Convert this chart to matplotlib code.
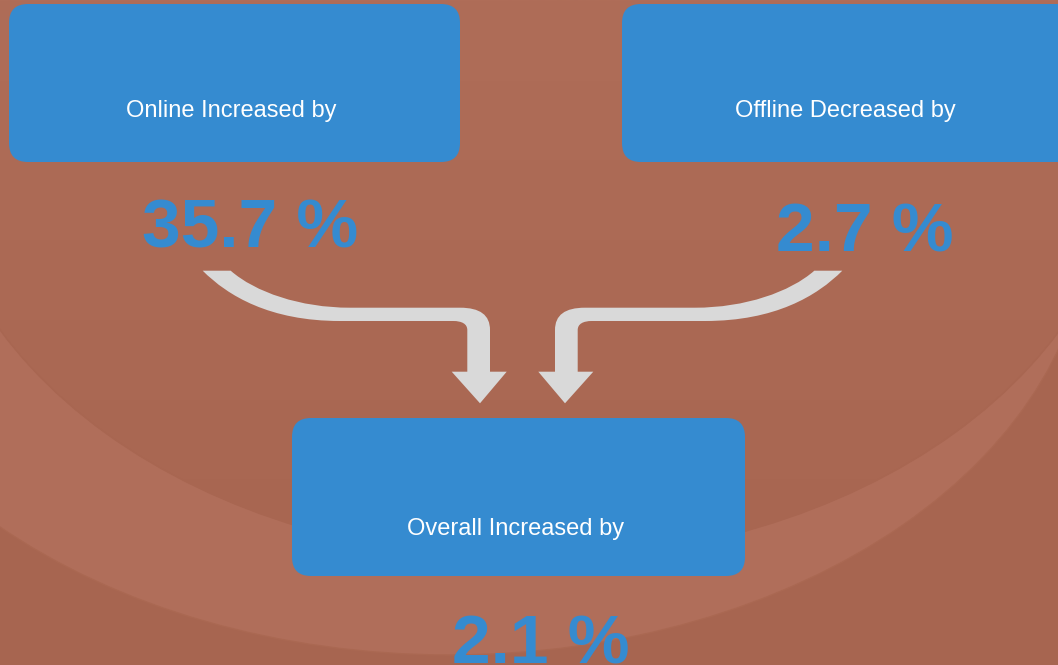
import matplotlib.pyplot as plt
import numpy as np
from matplotlib.patches import FancyBboxPatch, Ellipse, PathPatch, Rectangle
from matplotlib.path import Path
from matplotlib.colors import LinearSegmentedColormap

# texts and values
labels = ['Online Increased by', 'Offline Decreased by', 'Overall Increased by']
changes = [35.7, 2.7, 2.1]

# layout (pixel units, y downwards)
boxes = [(9, 4, 451, 158), (622, 4, 460, 158), (292, 418, 453, 158)]
label_pos = [(231, 117), (845, 117), (516, 535)]
value_pos = [(250, 248), (865, 252), (541, 663)]

BLUE = '#358BD0'
GREY = '#D9D9D9'
FONT = ['Liberation Sans', 'DejaVu Sans']

fig = plt.figure(figsize=(10.58, 6.65), dpi=100)
ax = fig.add_axes([0, 0, 1, 1])

# background with the soft rings
ax.add_patch(Rectangle((0, 0), 1058, 665, color='#A76550', zorder=0))
ax.add_patch(Ellipse((450, 212), 1280, 886, fc='#B06E5A', ec='#AA6852', lw=1, zorder=0.1))
inner = Ellipse((530, 127), 1200, 866, fc='none', ec='#A86651', lw=1, zorder=0.3)
ax.add_patch(inner)
grad = np.linspace(0, 1, 200).reshape(-1, 1)
cmap = LinearSegmentedColormap.from_list('bg', ['#AF6D58', '#A86651'])
im = ax.imshow(grad, extent=(0, 1058, 560, 0), cmap=cmap, aspect='auto', zorder=0.2)
im.set_clip_path(inner)

# boxes
for (x, y, w, h), lab, (tx, ty) in zip(boxes, labels, label_pos):
    ax.add_patch(FancyBboxPatch((x, y), w, h, boxstyle='round,pad=0,rounding_size=19',
                                fc=BLUE, ec='none', zorder=2))
    ax.text(tx, ty, lab, color='white', fontsize=17, family=FONT,
            ha='center', va='baseline', zorder=3)

# percentages
for v, (tx, ty) in zip(changes, value_pos):
    ax.text(tx, ty, f'{v} %', color=BLUE, fontsize=50, fontweight='bold', family=FONT,
            ha='center', va='baseline', zorder=3)

# curved arrows (left one, then mirrored)
M, L, C = Path.MOVETO, Path.LINETO, Path.CURVE4
verts = [(202.7, 270.7), (230.7, 270.7),
         (255, 292), (300, 307.7), (350, 307.7),
         (460, 307.7),
         (480, 307.7), (490, 315), (490, 330),
         (490, 371.7), (506.7, 371.7), (480, 403.3), (451.7, 371.7), (467.3, 371.7),
         (467.3, 330),
         (467.3, 324), (462, 321), (453, 321),
         (340, 321),
         (270, 321), (228, 296), (202.7, 270.7),
         (202.7, 270.7)]
codes = [M, L, C, C, C, L, C, C, C, L, L, L, L, L, L, C, C, C, L, C, C, C, Path.CLOSEPOLY]
for mirror in (False, True):
    vv = [(1045 - x, y) if mirror else (x, y) for x, y in verts]
    ax.add_patch(PathPatch(Path(vv, codes), fc=GREY, ec='none', zorder=2))

ax.set_xlim(0, 1058)
ax.set_ylim(665, 0)
ax.axis('off')

fig.savefig('out.png', dpi=100)
